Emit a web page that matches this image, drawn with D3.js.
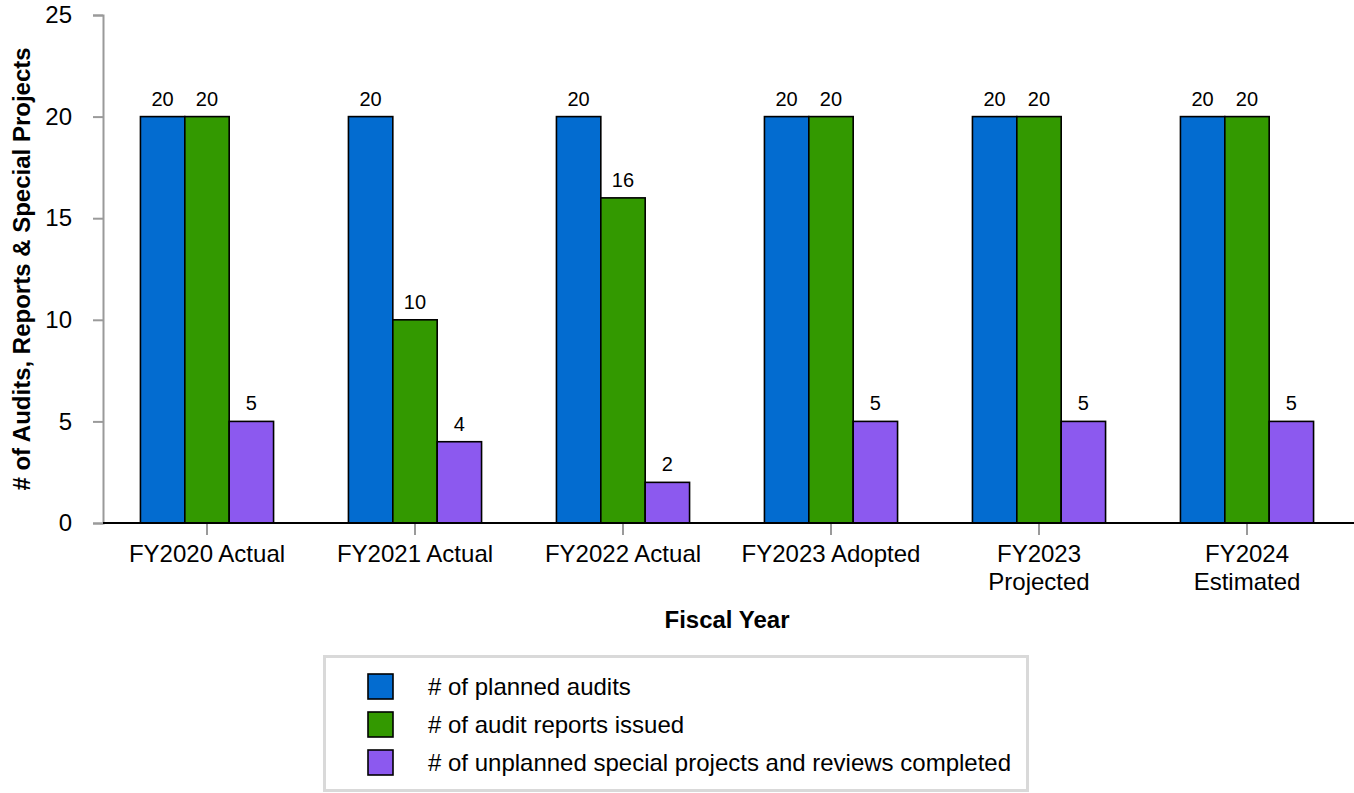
<!DOCTYPE html>
<html>
<head>
<meta charset="utf-8">
<script src="https://cdn.jsdelivr.net/npm/d3@7"></script>
<style>
  body { margin: 0; background: #fff; }
  svg { display: block; font-family: "Liberation Sans", Arial, sans-serif; }
</style>
</head>
<body>
<svg id="chart" width="1354" height="793"></svg>
<script>
const categories = [
  ["FY2020 Actual"],
  ["FY2021 Actual"],
  ["FY2022 Actual"],
  ["FY2023 Adopted"],
  ["FY2023", "Projected"],
  ["FY2024", "Estimated"]
];
const seriesNames = [
  "# of planned audits",
  "# of audit reports issued",
  "# of unplanned special projects and reviews completed"
];
const plannedAudits = [20, 20, 20, 20, 20, 20];
const reportsIssued = [20, 10, 16, 20, 20, 20];
const specialProjects = [5, 4, 2, 5, 5, 5];
const seriesColors = ["#036CD0", "#339900", "#8C59EF"];
const yTicks = [0, 5, 10, 15, 20, 25];

const seriesValues = [plannedAudits, reportsIssued, specialProjects];
const catKeys = categories.map(c => c.join(" "));

const svg = d3.select("#chart");
const plotLeft = 103, plotRight = 1351, plotTop = 15, plotBottom = 523;

const x0 = d3.scaleBand().domain(catKeys).range([plotLeft, plotRight]).paddingInner(0.36).paddingOuter(0.18);
const x1 = d3.scaleBand().domain(d3.range(seriesNames.length)).range([0, x0.bandwidth()]);
const y = d3.scaleLinear().domain([0, 25]).range([plotBottom, plotTop]);

// Y axis
const yAxis = svg.append("g").attr("transform", `translate(${plotLeft},0)`)
  .call(d3.axisLeft(y).tickValues(yTicks).tickSize(10).tickPadding(21));
yAxis.select(".domain").attr("stroke", "#9a9a9a").attr("stroke-width", 2);
yAxis.selectAll(".tick line").attr("stroke", "#9a9a9a").attr("stroke-width", 2);
yAxis.selectAll(".tick text").attr("font-size", 24).attr("fill", "#000")
  .attr("font-family", "Liberation Sans, Arial, sans-serif");

// Bars
const groups = svg.append("g").selectAll("g").data(catKeys).join("g")
  .attr("transform", d => `translate(${x0(d)},0)`);
groups.each(function(cat, ci) {
  const g = d3.select(this);
  seriesValues.forEach((vals, si) => {
    g.append("rect")
      .attr("x", x1(si))
      .attr("y", y(vals[ci]))
      .attr("width", x1.bandwidth())
      .attr("height", y(0) - y(vals[ci]))
      .attr("fill", seriesColors[si])
      .attr("stroke", "#000")
      .attr("stroke-width", 1.6);
    g.append("text")
      .attr("x", x1(si) + x1.bandwidth() / 2)
      .attr("y", y(vals[ci]) - 11)
      .attr("text-anchor", "middle")
      .attr("font-size", 20)
      .attr("fill", "#000")
      .text(vals[ci]);
  });
});

// X axis
const xAxis = svg.append("g").attr("transform", `translate(0,${plotBottom})`)
  .call(d3.axisBottom(x0).tickSize(12).tickFormat(""));
xAxis.select(".domain").remove();
xAxis.selectAll(".tick line").attr("stroke", "#9a9a9a").attr("stroke-width", 2);
svg.append("line").attr("x1", plotLeft).attr("x2", 1354).attr("y1", plotBottom).attr("y2", plotBottom)
  .attr("stroke", "#000").attr("stroke-width", 2);

xAxis.selectAll(".tick").each(function(d, i) {
  const t = d3.select(this).append("text")
    .attr("text-anchor", "middle")
    .attr("font-size", 24)
    .attr("fill", "#000");
  categories[i].forEach((line, li) => {
    t.append("tspan").attr("x", 0).attr("y", 39 + li * 28).text(line);
  });
});

// Axis titles
svg.append("text")
  .attr("transform", `translate(30,${(plotTop + plotBottom) / 2}) rotate(-90)`)
  .attr("text-anchor", "middle")
  .attr("font-size", 24)
  .attr("font-weight", "bold")
  .text("# of Audits, Reports & Special Projects");
svg.append("text")
  .attr("x", (plotLeft + plotRight) / 2)
  .attr("y", 628)
  .attr("text-anchor", "middle")
  .attr("font-size", 24)
  .attr("font-weight", "bold")
  .text("Fiscal Year");

// Legend
const legend = svg.append("g");
legend.append("rect").attr("x", 324.5).attr("y", 656.5).attr("width", 703).attr("height", 134)
  .attr("fill", "#fff").attr("stroke", "#d9d9d9").attr("stroke-width", 3);
seriesNames.forEach((name, i) => {
  const ry = 674 + i * 38;
  legend.append("rect").attr("x", 368).attr("y", ry).attr("width", 25).attr("height", 25)
    .attr("fill", seriesColors[i]).attr("stroke", "#000").attr("stroke-width", 1.6);
  legend.append("text").attr("x", 428).attr("y", ry + 21)
    .attr("font-size", 24).attr("fill", "#000").text(name);
});
</script>
</body>
</html>
